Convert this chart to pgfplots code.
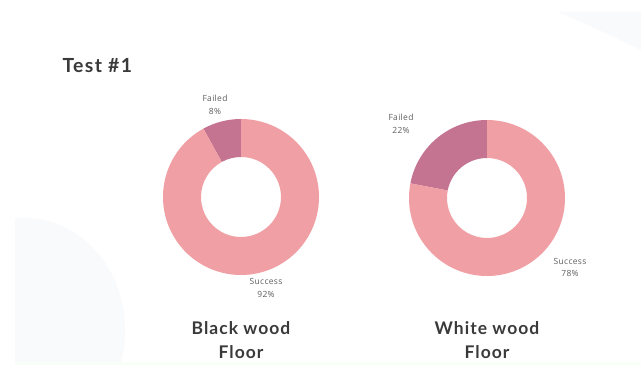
\documentclass[border=0pt]{standalone}
\usepackage{pgfplots}
\pgfplotsset{compat=1.18}
\usepackage{fontspec}
\setmainfont{Lato}
\newfontfamily\titlefont{Lato}[LetterSpace=7]
\newfontfamily\capfont{Lato}[LetterSpace=6]
\newfontfamily\labfont{Open Sans}[LetterSpace=4]
\definecolor{succ}{HTML}{F0A0A4}
\definecolor{fail}{HTML}{C47390}
\definecolor{titlec}{HTML}{3A3A3A}
\definecolor{lab}{HTML}{5E5E5E}
\definecolor{bgshape}{HTML}{F9FAFC}
% donut: cx, cy, failed %, success %
\newcommand{\donut}[4]{%
  \fill[fail] (axis cs:#1,#2) ++(90:78bp)
     arc[start angle=90, end angle={90+3.6*#3}, radius=78bp]
     -- ++({90+3.6*#3}:-38bp)
     arc[start angle={90+3.6*#3}, end angle=90, radius=40bp] -- cycle;
  \fill[succ] (axis cs:#1,#2) ++({90+3.6*#3}:78bp)
     arc[start angle={90+3.6*#3}, end angle={90+3.6*(#3+#4)}, radius=78bp]
     -- ++({90+3.6*(#3+#4)}:-38bp)
     arc[start angle={90+3.6*(#3+#4)}, end angle={90+3.6*#3}, radius=40bp] -- cycle;
}
\begin{document}
\begin{tikzpicture}
\path[use as bounding box] (0,0) rectangle (641bp,365bp);
\fill[white] (0,0) rectangle (641bp,365bp);
\begin{axis}[at={(0,0)}, anchor=south west, scale only axis,
  width=641bp, height=365bp, xmin=0, xmax=641, ymin=0, ymax=365,
  hide axis, clip=false]
  % faint background decorations
  \begin{scope}
    \clip (axis cs:15,3) rectangle (axis cs:641,353);
    \fill[bgshape] (axis cs:25,35) ellipse [x radius=100bp, y radius=112bp];
    \fill[bgshape] (axis cs:558,353) .. controls (axis cs:590,340) and (axis cs:620,325) .. (axis cs:641,315) -- (axis cs:641,353) -- cycle;
  \end{scope}
  \fill[green!3] (axis cs:15,0) rectangle (axis cs:641,3);
  % title
  \node[anchor=west, text=titlec, font=\titlefont\fontsize{19.5}{22}\selectfont\bfseries] at (axis cs:59,299.5) {Test \#1};
  % donuts
  \donut{241}{168}{8}{92}
  \donut{487}{167}{22}{78}
  % slice labels
  \node[align=center, text=lab, font=\labfont\fontsize{8.5}{13}\selectfont] at (axis cs:215,260) {Failed\\8\%};
  \node[align=center, text=lab, font=\labfont\fontsize{8.5}{13}\selectfont] at (axis cs:266,77) {Success\\92\%};
  \node[align=center, text=lab, font=\labfont\fontsize{8.5}{13}\selectfont] at (axis cs:401,241.5) {Failed\\22\%};
  \node[align=center, text=lab, font=\labfont\fontsize{8.5}{13}\selectfont] at (axis cs:570,97.5) {Success\\78\%};
  % chart captions
  \node[align=center, text=titlec, font=\capfont\fontsize{17.5}{24}\selectfont\bfseries] at (axis cs:241,25) {Black wood\\Floor};
  \node[align=center, text=titlec, font=\capfont\fontsize{17.5}{24}\selectfont\bfseries] at (axis cs:487,25) {White wood\\Floor};
\end{axis}
\end{tikzpicture}
\end{document}
